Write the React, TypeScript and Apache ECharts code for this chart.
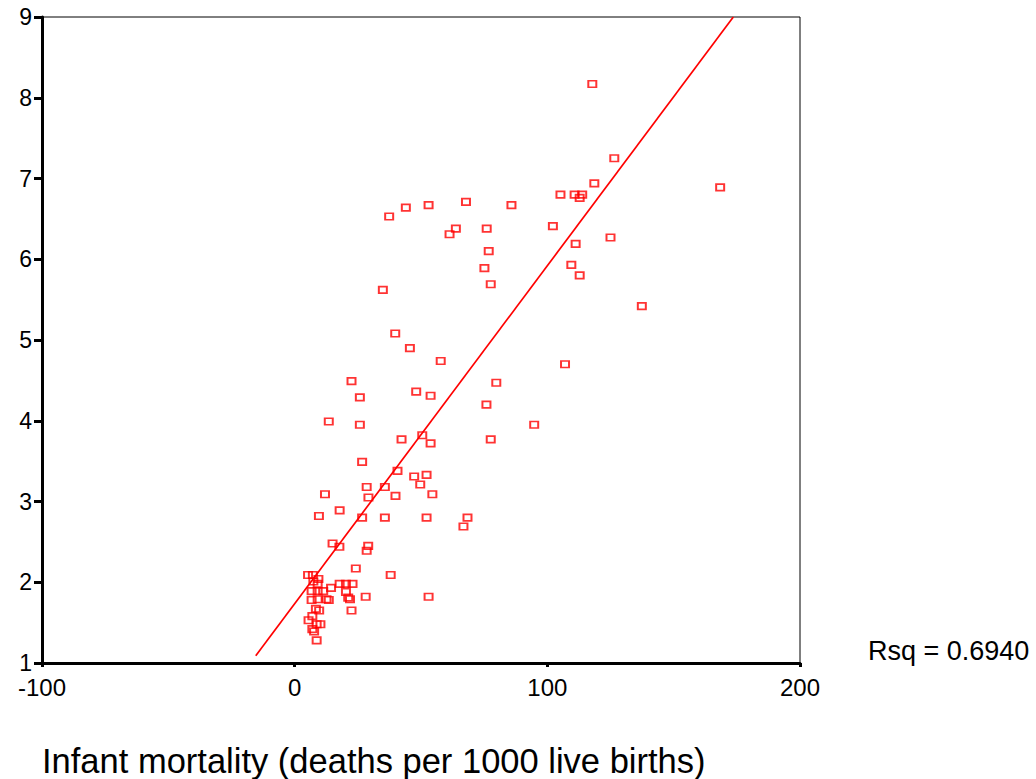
import React, { useEffect, useRef } from "react";
import * as echarts from "echarts";

// Infant mortality (x) vs fertility (y)
const points: [number, number][] = [
  [117.8, 8.17], [126.5, 7.25], [118.6, 6.94], [168.4, 6.89], [105.2, 6.8], [110.8, 6.8],
  [113.8, 6.8], [112.8, 6.76], [67.8, 6.71], [85.8, 6.67], [53.0, 6.67], [44.0, 6.64],
  [37.4, 6.53], [63.8, 6.38], [61.3, 6.31], [76.0, 6.38], [102.2, 6.41], [125.0, 6.27],
  [111.2, 6.19], [76.8, 6.1], [109.5, 5.93], [75.1, 5.89], [112.8, 5.8], [77.6, 5.69],
  [34.9, 5.62], [137.4, 5.42], [39.8, 5.08], [45.6, 4.9], [57.8, 4.74], [107.0, 4.7],
  [22.5, 4.49], [79.8, 4.47], [48.1, 4.36], [25.8, 4.29], [53.8, 4.31], [75.9, 4.2],
  [13.5, 3.99], [25.8, 3.95], [94.8, 3.95], [42.3, 3.77], [53.8, 3.72], [77.6, 3.77],
  [50.5, 3.82], [26.7, 3.49], [40.7, 3.38], [47.3, 3.31], [52.2, 3.33], [28.5, 3.18],
  [35.7, 3.18], [49.7, 3.21], [12.0, 3.09], [39.9, 3.07], [54.5, 3.09], [29.2, 3.05],
  [17.8, 2.89], [9.6, 2.82], [26.7, 2.8], [35.7, 2.8], [52.2, 2.8], [68.4, 2.8],
  [66.8, 2.69], [15.0, 2.48], [17.7, 2.44], [29.1, 2.45], [28.5, 2.39], [24.2, 2.17],
  [38.0, 2.09], [5.3, 2.09], [7.2, 2.09], [9.4, 2.04], [53.0, 1.82], [28.1, 1.82],
  [7.4, 2.01], [9.1, 1.98], [14.4, 1.93], [17.8, 1.98], [20.3, 1.98], [22.9, 1.98],
  [6.7, 1.89], [9.1, 1.89], [11.3, 1.89], [20.3, 1.88], [21.2, 1.81], [21.9, 1.79],
  [12.6, 1.79], [13.5, 1.78], [6.7, 1.78], [9.1, 1.79], [8.4, 1.67], [9.7, 1.65],
  [22.5, 1.65], [7.0, 1.58], [5.5, 1.53], [8.7, 1.48], [10.2, 1.48], [7.0, 1.42],
  [7.7, 1.39], [8.7, 1.28],
];

// Fitted regression line end points
const fitLine: [number, number][] = [[-15.4, 1.09], [173.6, 9]];

const xTicks = { min: -100, max: 200, interval: 100 };
const yTicks = { min: 1, max: 9, interval: 1 };
const xTitle = "Infant mortality (deaths per 1000 live births)";
const rsqLabel = "Rsq = 0.6940";

const FONT = "Liberation Sans, Arial, sans-serif";

export default function App() {
  const ref = useRef<HTMLDivElement>(null);
  useEffect(() => {
    if (!ref.current) return;
    const chart = echarts.init(ref.current, null, { renderer: "svg" });
    chart.setOption({
      animation: false,
      backgroundColor: "#fff",
      grid: {
        left: 42,
        right: 236,
        top: 17,
        bottom: 116,
        show: true,
        borderColor: "#000",
        borderWidth: 1,
      },
      xAxis: {
        type: "value",
        min: xTicks.min,
        max: xTicks.max,
        interval: xTicks.interval,
        axisLine: { show: true, onZero: false, lineStyle: { color: "#000", width: 3 } },
        axisTick: { show: true, length: 4, lineStyle: { color: "#000", width: 3 } },
        axisLabel: { color: "#000", fontSize: 24, fontFamily: FONT, margin: 12 },
        splitLine: { show: false },
      },
      yAxis: {
        type: "value",
        min: yTicks.min,
        max: yTicks.max,
        interval: yTicks.interval,
        axisLine: { show: true, onZero: false, lineStyle: { color: "#000", width: 3 } },
        axisTick: { show: true, length: 8, lineStyle: { color: "#000", width: 3 } },
        axisLabel: { color: "#000", fontSize: 23, fontFamily: FONT, margin: 10 },
        splitLine: { show: false },
      },
      series: [
        {
          type: "line",
          data: fitLine,
          symbol: "none",
          lineStyle: { color: "#ff0000", width: 1.7 },
          silent: true,
          z: 2,
        },
        {
          type: "scatter",
          data: points,
          symbol: "rect",
          symbolSize: [8, 6.5],
          itemStyle: { color: "transparent", borderColor: "#ff0000", borderWidth: 1.8 },
          z: 3,
        },
      ],
      graphic: [
        {
          type: "text",
          left: 868,
          top: 637,
          style: { text: rsqLabel, fill: "#000", font: `27px ${FONT}` },
        },
        {
          type: "text",
          left: 42,
          top: 743,
          style: { text: xTitle, fill: "#000", font: `34.5px ${FONT}` },
        },
      ],
    });
    return () => chart.dispose();
  }, []);
  return (
    <div
      ref={ref}
      style={{ position: "absolute", left: 0, top: 0, width: 1036, height: 779 }}
    />
  );
}
